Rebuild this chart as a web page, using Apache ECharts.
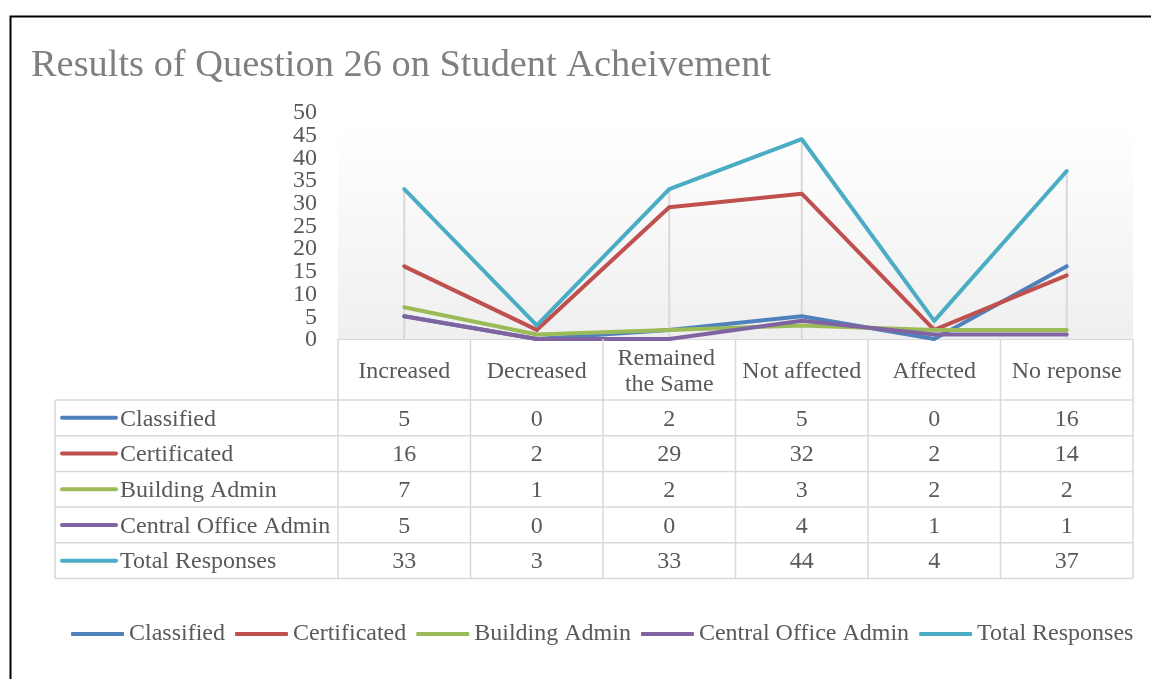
<!DOCTYPE html>
<html>
<head>
<meta charset="utf-8">
<script src="https://cdn.jsdelivr.net/npm/echarts@6/dist/echarts.min.js"></script>
<style>
html,body{margin:0;padding:0;background:#fff;}
#chart{width:1151px;height:679px;}
</style>
</head>
<body>
<div id="chart"></div>
<script>
const categories = ['Increased', 'Decreased', 'Remained the Same', 'Not affected', 'Affected', 'No reponse'];
const seriesNames = ['Classified', 'Certificated', 'Building Admin', 'Central Office Admin', 'Total Responses'];
const classified = [5, 0, 2, 5, 0, 16];
const certificated = [16, 2, 29, 32, 2, 14];
const buildingAdmin = [7, 1, 2, 3, 2, 2];
const centralOfficeAdmin = [5, 0, 0, 4, 1, 1];
const totalResponses = [33, 3, 33, 44, 4, 37];
const yTicks = [0, 5, 10, 15, 20, 25, 30, 35, 40, 45, 50];

const seriesValues = [classified, certificated, buildingAdmin, centralOfficeAdmin, totalResponses];
const colors = ['#4f81bd', '#c0504d', '#9bbb59', '#8064a2', '#4bacc6'];
const FONT = "'Liberation Serif', 'Times New Roman', serif";
const TXT = '#595959';
const GRID_LINE = '#d9d9d9';

const dropMax = categories.map((c, i) => Math.max(...seriesValues.map(v => v[i])));

const chart = echarts.init(document.getElementById('chart'), null, {renderer: 'canvas'});

const option = {
  backgroundColor: '#ffffff',
  animation: false,
  title: {
    text: 'Results of Question 26 on Student Acheivement',
    left: 31, top: 47, padding: 0,
    textStyle: {fontFamily: FONT, fontSize: 38.4, fontWeight: 'normal', color: '#7f7f7f'}
  },
  legend: {
    data: seriesNames,
    left: 71, top: 622, padding: 0,
    icon: 'roundRect', itemWidth: 53, itemHeight: 4, itemGap: 10,
    textStyle: {fontFamily: FONT, fontSize: 24, color: TXT}
  },
  grid: {
    left: 338, right: 18, top: 112, bottom: 340,
    show: true, borderWidth: 0,
    backgroundColor: {
      type: 'linear', x: 0, y: 0, x2: 0, y2: 1,
      colorStops: [{offset: 0, color: '#ffffff'}, {offset: 0.12, color: '#fefefe'}, {offset: 1, color: '#efefef'}]
    }
  },
  xAxis: {
    type: 'category', data: categories, boundaryGap: true,
    axisLine: {show: true, lineStyle: {color: GRID_LINE, width: 1}},
    axisTick: {show: false},
    axisLabel: {
      interval: 0, margin: 33, verticalAlign: 'middle', width: 126, overflow: 'break',
      fontFamily: FONT, fontSize: 24, color: TXT, lineHeight: 26, align: 'center'
    },
    splitLine: {show: false}
  },
  yAxis: {
    type: 'value', min: yTicks[0], max: yTicks[yTicks.length - 1], interval: yTicks[1] - yTicks[0],
    axisLine: {show: false}, axisTick: {show: false}, splitLine: {show: false},
    axisLabel: {show: false}
  },
  series: [
    {
      name: 'drop', type: 'bar', data: dropMax, barWidth: 2, silent: true, z: 1,
      itemStyle: {color: GRID_LINE}
    }
  ].concat(seriesNames.map((n, k) => ({
    name: n, type: 'line', data: seriesValues[k], symbol: 'none', z: 3 + k,
    color: colors[k],
    lineStyle: {width: 4, color: colors[k], cap: 'round', join: 'round'}
  })))
};
chart.setOption(option);

// Y tick labels and data table built from the axis geometry
function buildTable() {
  const cx = categories.map((c, i) => chart.convertToPixel({xAxisIndex: 0}, i));
  const colW = cx[1] - cx[0];
  const y0 = chart.convertToPixel({yAxisIndex: 0}, 0);
  const leftX = 55;
  const plotL = cx[0] - colW / 2;
  const plotR = cx[cx.length - 1] + colW / 2;
  const headerH = 61;
  const rowH = 35.7;
  const rowsTop = y0 + headerH;
  const bottom = rowsTop + rowH * seriesNames.length;
  const els = [];
  yTicks.forEach(t => {
    els.push({type: 'text', x: plotL - 21, y: chart.convertToPixel({yAxisIndex: 0}, t) + 1,
      style: {text: String(t), fontFamily: FONT, fontSize: 24, fill: TXT, textAlign: 'right', textVerticalAlign: 'middle'}, z: 11});
  });
  const ls = {stroke: GRID_LINE, lineWidth: 1.5};
  for (let k = 0; k <= seriesNames.length; k++) {
    const y = rowsTop + k * rowH;
    els.push({type: 'line', shape: {x1: leftX, y1: y, x2: plotR, y2: y}, style: ls, z: 10});
  }
  els.push({type: 'line', shape: {x1: leftX, y1: rowsTop, x2: leftX, y2: bottom}, style: ls, z: 10});
  for (let i = 0; i <= categories.length; i++) {
    const x = plotL + i * colW;
    els.push({type: 'line', shape: {x1: x, y1: y0, x2: x, y2: bottom}, style: ls, z: 10});
  }
  seriesNames.forEach((n, k) => {
    const cy = rowsTop + (k + 0.5) * rowH;
    els.push({type: 'line', shape: {x1: 62, y1: cy, x2: 116, y2: cy},
      style: {stroke: colors[k], lineWidth: 4, lineCap: 'round'}, z: 11});
    els.push({type: 'text', x: 120, y: cy + 1.5,
      style: {text: n, fontFamily: FONT, fontSize: 24, fill: TXT, textAlign: 'left', textVerticalAlign: 'middle'}, z: 11});
    seriesValues[k].forEach((v, i) => {
      els.push({type: 'text', x: cx[i], y: cy + 1.5,
        style: {text: String(v), fontFamily: FONT, fontSize: 24, fill: TXT, textAlign: 'center', textVerticalAlign: 'middle'}, z: 11});
    });
  });
  els.push({type: 'rect', shape: {x: 10.5, y: 16.5, width: 2000, height: 2000},
    style: {fill: 'none', stroke: '#000', lineWidth: 2}, z: 20, silent: true});
  chart.setOption({graphic: {elements: els}});
}
buildTable();
</script>
</body>
</html>
